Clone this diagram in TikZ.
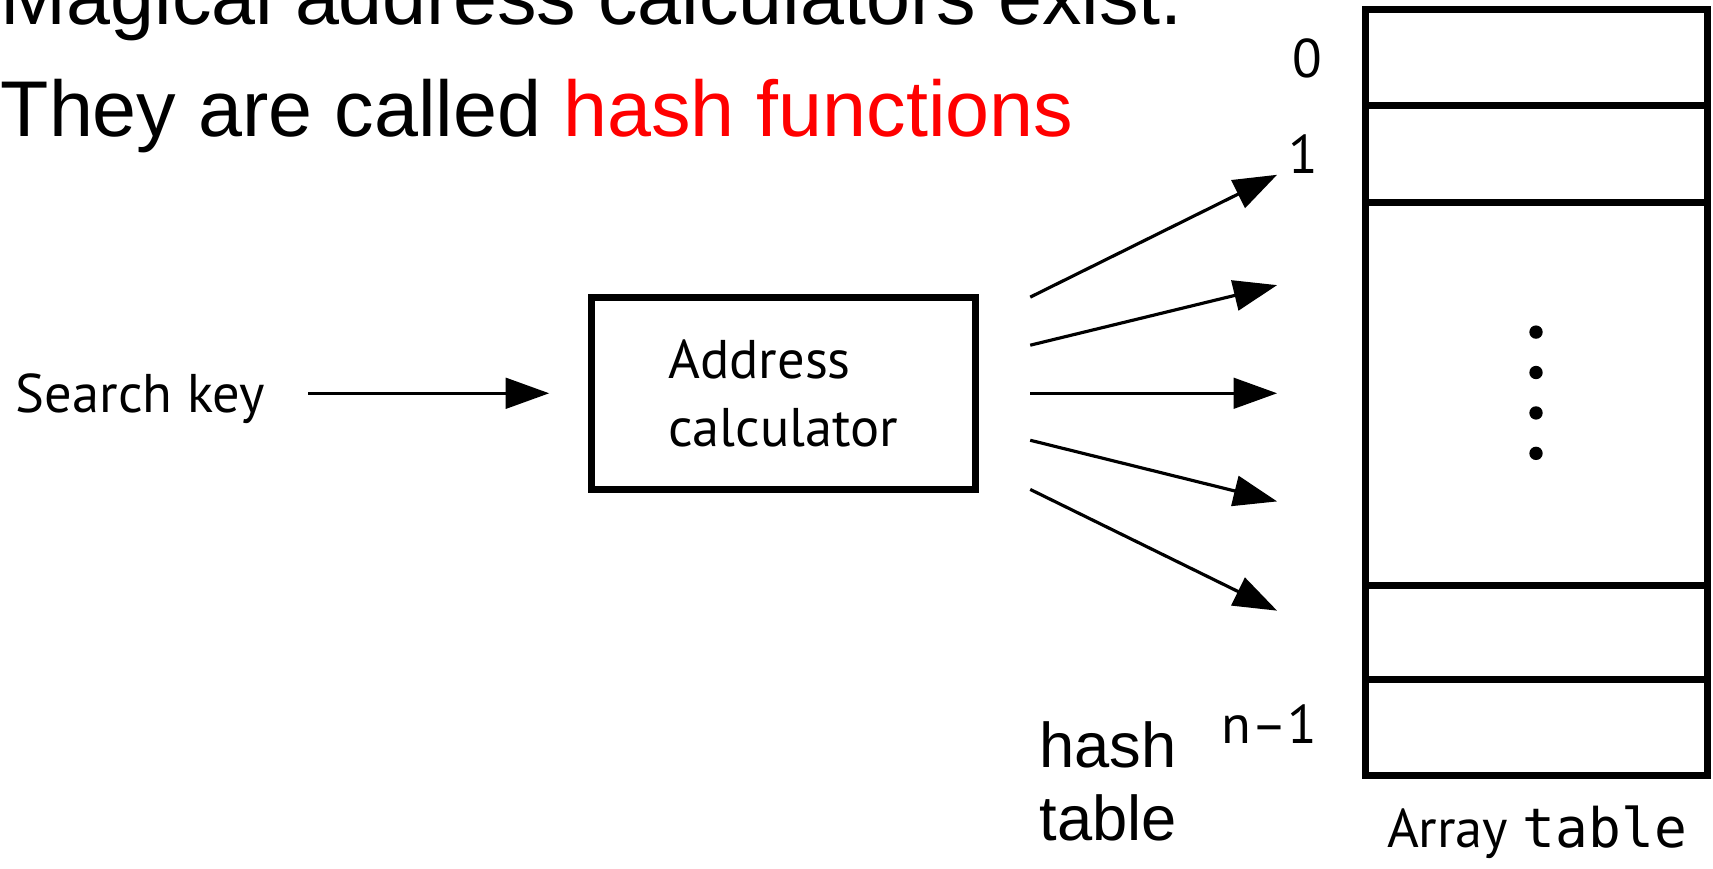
\documentclass[tikz,border=0pt]{standalone}
\usepackage{fontspec}
\setmainfont{Liberation Sans}
\newfontfamily\figfont{PT Sans}
\newfontfamily\codefont{DejaVu Sans Mono}
\usetikzlibrary{arrows.meta,fit}
\begin{document}
\begin{tikzpicture}[x=0.010925cm,y=-0.010925cm,
  headtext/.style={font=\fontsize{22.5}{27}\selectfont, anchor=base west, inner sep=0pt},
  hashtext/.style={font=\fontsize{18}{20.8}\selectfont, anchor=base west, inner sep=0pt, align=left},
  figlabel/.style={font=\figfont\fontsize{15.5}{19.3}\selectfont, inner sep=0pt},
  boxline/.style={draw, line width=2pt, inner sep=0pt},
  conn/.style={line width=0.9pt, -{Triangle[length=12.4pt,width=8.7pt]}},
  dotmark/.style={circle, fill, inner sep=0pt, minimum size=3.8pt}
]
\useasboundingbox (0,0) rectangle (1568,795);
% heading
\node[headtext] (l1) at (0,22) {Magical address calculators exist.};
\node[headtext] (l2) at (0,125) {They are called \textcolor{red}{hash functions}};
% search key and calculator
\node[figlabel, anchor=base west] (key) at (14,378) {Search key};
\node[boxline, figlabel, align=left, minimum width=109.4pt, minimum height=54.7pt] (calc) at (717,360) {Address\\calculator};
\coordinate (k0) at (282,360);
\draw[conn, shorten >=10.9pt] (k0) -- (calc.west);
% array
\node[boxline, fit={(1250,9)(1563,97)}] (c0) {};
\node[boxline, fit={(1250,97)(1563,185)}] (c1) {};
\node[boxline, fit={(1250,185)(1563,536)}] (cm) {};
\node[boxline, fit={(1250,536)(1563,622)}] (ca) {};
\node[boxline, fit={(1250,622)(1563,710)}] (cn) {};
\node[dotmark] (d1) at (1406,304) {};
\node[dotmark] (d2) at (1406,341) {};
\node[dotmark] (d3) at (1406,378) {};
\node[dotmark] (d4) at (1406,415) {};
\node[figlabel, anchor=base east] (i0) at (1211,71) {0};
\node[figlabel, anchor=base east] (i1) at (1207,159) {1};
\node[figlabel, anchor=base east] (in) at (1206,681) {n\textendash1};
% fan of arrows
\coordinate (s1) at (943,272); \coordinate (t1) at (1169,160);
\coordinate (s2) at (943,316); \coordinate (t2) at (1169,261);
\coordinate (s3) at (943,360); \coordinate (t3) at (1169,360);
\coordinate (s4) at (943,403); \coordinate (t4) at (1169,459);
\coordinate (s5) at (943,448); \coordinate (t5) at (1169,559);
\foreach \i in {1,...,5} {\draw[conn] (s\i) -- (t\i);}
% labels
\node[hashtext] (ht) at (951,769) {hash\\table};
\node[figlabel, anchor=base west] (arr) at (1269,776) {Array {\codefont table}};
\end{tikzpicture}
\end{document}
